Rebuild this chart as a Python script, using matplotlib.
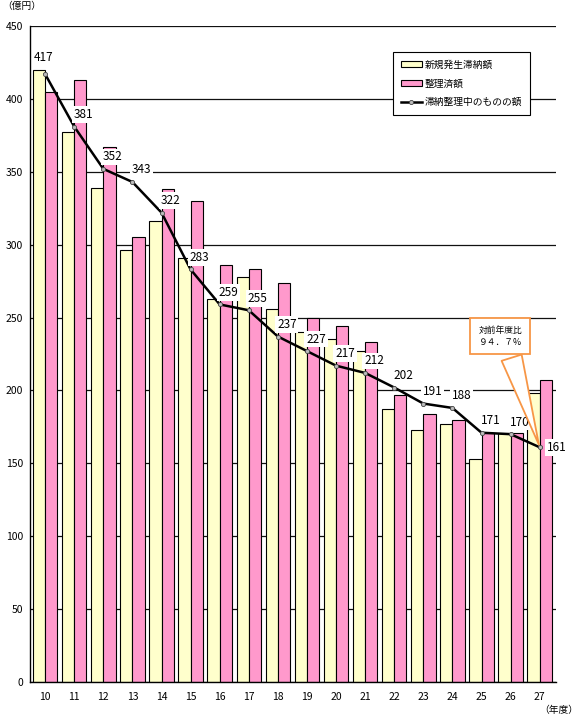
import matplotlib
matplotlib.use("Agg")
import matplotlib.pyplot as plt
import numpy as np

plt.rcParams["font.family"] = ["Noto Sans CJK JP", "DejaVu Sans"]

# ---- data (億円) ----
years = ["10", "11", "12", "13", "14", "15", "16", "17", "18",
         "19", "20", "21", "22", "23", "24", "25", "26", "27"]
new_arrears = [420, 377, 339, 296, 316, 291, 263, 278, 256,
               240, 235, 227, 187, 173, 177, 153, 171, 198]
settled = [405, 413, 367, 305, 338, 330, 286, 283, 274,
           250, 244, 233, 197, 184, 180, 171, 171, 207]
outstanding = [417, 381, 352, 343, 322, 283, 259, 255, 237,
               227, 217, 212, 202, 191, 188, 171, 170, 161]

label_offsets = [(-2, 17)] + [(9, 12)] * 16 + [(17, 0)]

fig = plt.figure(figsize=(5.8, 7.16), dpi=100)
ax = fig.add_axes([30 / 580, 34 / 716, 526 / 580, 656 / 716])

x = np.arange(len(years))
w = 0.42
b1 = ax.bar(x - w / 2, new_arrears, width=w, color="#ffffcc", edgecolor="black",
            linewidth=0.8, zorder=2, label="新規発生滞納額")
b2 = ax.bar(x + w / 2, settled, width=w, color="#ff99cc", edgecolor="black",
            linewidth=0.8, zorder=2, label="整理済額")
ln, = ax.plot(x, outstanding, color="black", lw=1.8, marker="o", ms=3,
              mfc="#bbbbbb", mec="#444444", mew=0.6, zorder=4,
              label="滞納整理中のものの額")

for xi, v, off in zip(x, outstanding, label_offsets):
    ax.annotate(str(v), (xi, v), xytext=off, textcoords="offset pixels",
                ha="center", va="center", fontsize=8.5, zorder=5,
                bbox=dict(boxstyle="square,pad=0.15", fc="white", ec="none"))

# callout for the last year
ax.annotate("対前年度比\n９４．７%", (x[-1], outstanding[-1]),
            xytext=(0.894, 0.527), textcoords="axes fraction",
            ha="center", va="center", fontsize=6.3, linespacing=1.35, zorder=6,
            bbox=dict(boxstyle="square,pad=0.9", fc="white", ec="#f79646", lw=1.3),
            arrowprops=dict(arrowstyle="wedge,tail_width=2.4,shrink_factor=0.5",
                            fc="white", ec="#f79646", lw=1.3, relpos=(0.68, 0.0)))

ax.set_xlim(-0.52, 17.56)
ax.set_ylim(0, 450)
ax.set_yticks(range(0, 451, 50))
ax.set_xticks(x)
ax.set_xticklabels(years)
ax.yaxis.grid(True, color="#111111", lw=0.9, zorder=0)
ax.set_axisbelow(True)
ax.tick_params(axis="both", length=0, labelsize=7.5)
ax.tick_params(axis="y", pad=5)
ax.tick_params(axis="x", pad=7)
for s in ["top", "right"]:
    ax.spines[s].set_visible(False)
ax.spines["left"].set_linewidth(1.0)
ax.spines["bottom"].set_linewidth(1.0)

leg = ax.legend([b1, b2, ln], [b1.get_label(), b2.get_label(), ln.get_label()],
                loc="upper left", bbox_to_anchor=(388 / 580, 1 - 47 / 716),
                bbox_transform=fig.transFigure, fontsize=7, frameon=True,
                fancybox=False, framealpha=1, edgecolor="black",
                handlelength=2.2, handleheight=0.5, borderpad=0.8,
                labelspacing=0.9, handletextpad=0.3)
leg.get_frame().set_linewidth(0.8)
leg.set_zorder(10)

fig.text(2 / 580, 1 - 6 / 716, "（億円）", fontsize=7, va="center", ha="left")
fig.text(578 / 580, 1 - 710 / 716, "（年度）", fontsize=7, va="center", ha="right")

fig.savefig("out.png", dpi=100)
